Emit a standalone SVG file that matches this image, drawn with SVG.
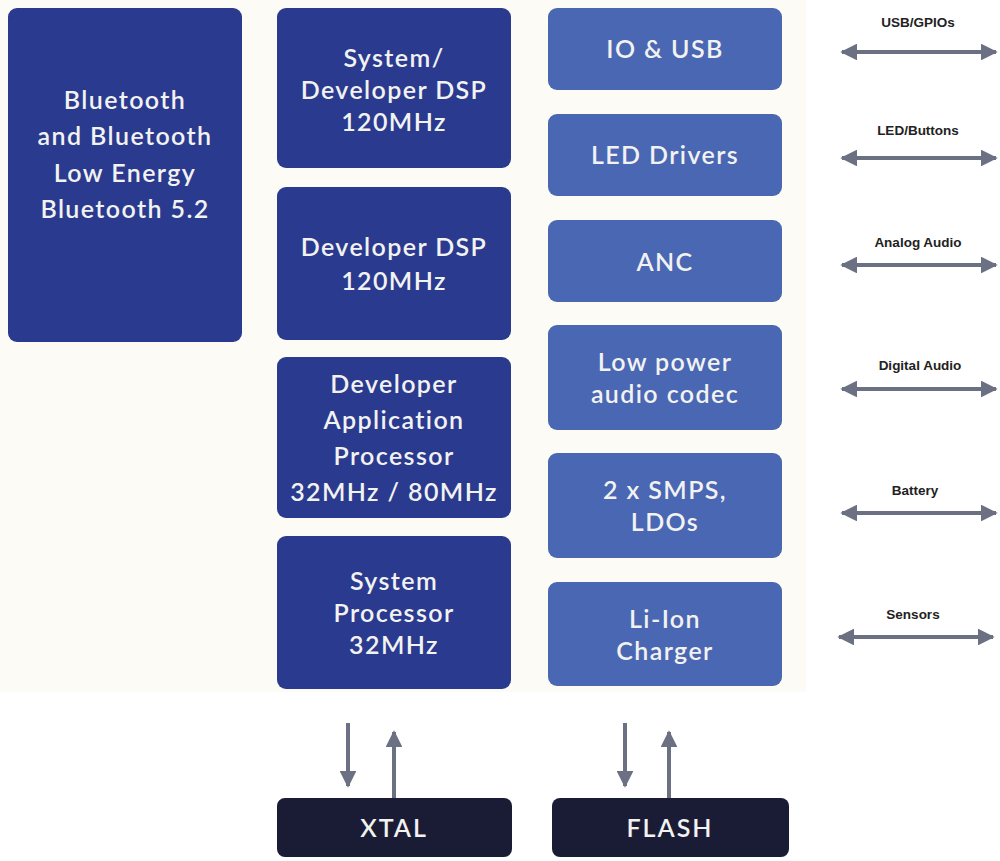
<svg xmlns="http://www.w3.org/2000/svg" width="1000" height="861" viewBox="0 0 1000 861">
<style>
.dk{fill:#2a3a8f;}
.lt{fill:#4a67b3;}
.bk{fill:#1a1c36;}
.t{font-family:Lato,"Open Sans",sans-serif;font-size:25px;font-weight:600;fill:#f2f2f0;text-anchor:middle;letter-spacing:1.4px;}
.tb{font-family:Lato,"Open Sans",sans-serif;font-size:25px;font-weight:600;fill:#f2f2f0;text-anchor:middle;letter-spacing:2px;}
.lb{font-family:"Liberation Sans",Arial,sans-serif;font-size:13.5px;font-weight:bold;fill:#222;text-anchor:middle;}
.ln{stroke:#6b7083;stroke-width:4;fill:none;}
</style>
<defs>
<marker id="ah" viewBox="0 0 10 10" refX="9" refY="5" markerWidth="4.2" markerHeight="4.2" orient="auto-start-reverse" markerUnits="strokeWidth">
<path d="M0,0 L10,5 L0,10 Z" fill="#6b7083"/>
</marker>
</defs>
<rect width="1000" height="861" fill="#ffffff"/>
<rect x="0" y="0" width="806" height="692" fill="#fcfbf5"/>
<g id="bluetooth"><rect class="dk" x="8" y="8" width="234" height="334" rx="9"/>
<text class="t" x="125" y="109">Bluetooth</text><text class="t" x="125" y="145">and Bluetooth</text><text class="t" x="125" y="182">Low Energy</text><text class="t" x="125" y="218">Bluetooth 5.2</text></g>
<g id="sysdsp"><rect class="dk" x="277" y="8" width="234" height="160" rx="9"/>
<text class="t" x="394" y="67">System/</text><text class="t" x="394" y="99">Developer DSP</text><text class="t" x="394" y="131">120MHz</text></g>
<g id="devdsp"><rect class="dk" x="277" y="187" width="234" height="153" rx="9"/>
<text class="t" x="394" y="256">Developer DSP</text><text class="t" x="394" y="290">120MHz</text></g>
<g id="appproc"><rect class="dk" x="277" y="357" width="234" height="161" rx="9"/>
<text class="t" x="394" y="393">Developer</text><text class="t" x="394" y="429">Application</text><text class="t" x="394" y="465">Processor</text><text class="t" x="394" y="501">32MHz / 80MHz</text></g>
<g id="sysproc"><rect class="dk" x="277" y="536" width="234" height="153" rx="9"/>
<text class="t" x="394" y="590">System</text><text class="t" x="394" y="622">Processor</text><text class="t" x="394" y="654">32MHz</text></g>
<g id="io"><rect class="lt" x="548" y="8" width="234" height="82" rx="9"/><text class="t" x="665" y="58">IO &amp; USB</text></g>
<g id="led"><rect class="lt" x="548" y="114" width="234" height="82" rx="9"/><text class="t" x="665" y="164">LED Drivers</text></g>
<g id="anc"><rect class="lt" x="548" y="220" width="234" height="82" rx="9"/><text class="t" x="665" y="271">ANC</text></g>
<g id="codec"><rect class="lt" x="548" y="325" width="234" height="105" rx="9"/><text class="t" x="665" y="371">Low power</text><text class="t" x="665" y="403">audio codec</text></g>
<g id="smps"><rect class="lt" x="548" y="453" width="234" height="105" rx="9"/><text class="t" x="665" y="499">2 x SMPS,</text><text class="t" x="665" y="531">LDOs</text></g>
<g id="charger"><rect class="lt" x="548" y="582" width="234" height="104" rx="9"/><text class="t" x="665" y="628">Li-Ion</text><text class="t" x="665" y="660">Charger</text></g>
<g id="xtal"><rect class="bk" x="277" y="798" width="235" height="59" rx="8"/><text class="tb" x="394" y="837">XTAL</text></g>
<g id="flash"><rect class="bk" x="552" y="798" width="237" height="59" rx="8"/><text class="tb" x="670" y="837">FLASH</text></g>
<g id="labels">
<text class="lb" x="918" y="27">USB/GPIOs</text>
<text class="lb" x="918" y="135">LED/Buttons</text>
<text class="lb" x="918" y="247">Analog Audio</text>
<text class="lb" x="920" y="370">Digital Audio</text>
<text class="lb" x="915" y="495">Battery</text>
<text class="lb" x="913" y="619">Sensors</text>
</g>
<g id="connectors">
<line class="ln" x1="842" y1="52" x2="996" y2="52" marker-start="url(#ah)" marker-end="url(#ah)"/>
<line class="ln" x1="842" y1="158" x2="996" y2="158" marker-start="url(#ah)" marker-end="url(#ah)"/>
<line class="ln" x1="842" y1="265" x2="996" y2="265" marker-start="url(#ah)" marker-end="url(#ah)"/>
<line class="ln" x1="842" y1="389" x2="996" y2="389" marker-start="url(#ah)" marker-end="url(#ah)"/>
<line class="ln" x1="842" y1="513" x2="996" y2="513" marker-start="url(#ah)" marker-end="url(#ah)"/>
<line class="ln" x1="839" y1="637" x2="993" y2="637" marker-start="url(#ah)" marker-end="url(#ah)"/>
<line class="ln" x1="348" y1="723" x2="348" y2="786" marker-end="url(#ah)"/>
<line class="ln" x1="394" y1="798" x2="394" y2="732" marker-end="url(#ah)"/>
<line class="ln" x1="625" y1="723" x2="625" y2="786" marker-end="url(#ah)"/>
<line class="ln" x1="669" y1="798" x2="669" y2="732" marker-end="url(#ah)"/>
</g>
</svg>
